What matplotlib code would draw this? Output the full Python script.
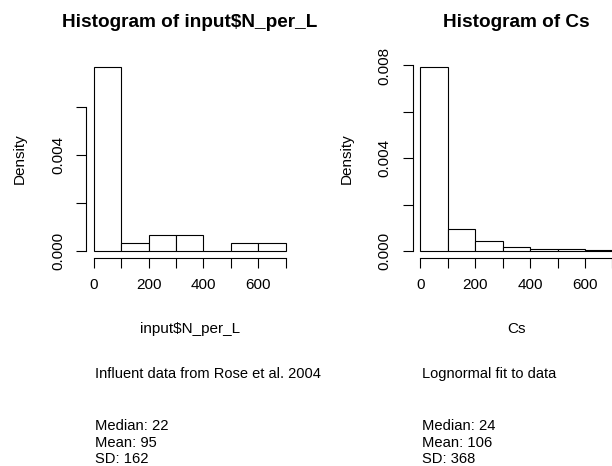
import matplotlib
matplotlib.use("Agg")
import matplotlib.pyplot as plt
import numpy as np

plt.rcParams['font.family'] = ['Liberation Sans', 'DejaVu Sans']

# histogram bins (shared)
breaks = [0, 100, 200, 300, 400, 500, 600, 700]

# left: influent data, counts per bin (n = 30)
n_counts = [23, 1, 2, 2, 0, 1, 1]
# right: lognormal fit, densities
cs_density = [0.00794, 0.00095, 0.00041, 0.00017, 0.00010, 0.00009, 0.00006]

left_title = "Histogram of input$N_per_L"
right_title = "Histogram of Cs"
left_xlab = "input$N_per_L"
right_xlab = "Cs"
left_note = "Influent data from Rose et al. 2004"
right_note = "Lognormal fit to data"
left_stats = ["Median: 22", "Mean: 95", "SD: 162"]
right_stats = ["Median: 24", "Mean: 106", "SD: 368"]

W, H = 612, 466
fig = plt.figure(figsize=(W / 100, H / 100), dpi=100)


def px(x, y):
    return x / W, 1 - y / H


def hist_panel(x0, dens, yticks, ylabels, title, xlab, note, stats):
    x1 = x0 + 207.4
    top, bot = 59.5, 258.3
    ax = fig.add_axes([x0 / W, 1 - bot / H, (x1 - x0) / W, (bot - top) / H])
    widths = np.diff(breaks)
    ax.bar(breaks[:-1], dens, width=widths, align='edge',
           facecolor='white', edgecolor='black', linewidth=0.8)
    span = breaks[-1] - breaks[0]
    ax.set_xlim(breaks[0] - 0.04 * span, breaks[-1] + 0.04 * span)
    ymax = max(dens)
    ax.set_ylim(-0.04 * ymax, 1.04 * ymax)
    ax.spines['top'].set_visible(False)
    ax.spines['right'].set_visible(False)
    ax.spines['left'].set_bounds(yticks[0], yticks[-1])
    ax.spines['bottom'].set_bounds(breaks[0], breaks[-1])
    for s in ('left', 'bottom'):
        ax.spines[s].set_linewidth(0.8)
    ax.set_xticks(breaks)
    ax.set_xticklabels([str(b) if b % 200 == 0 else '' for b in breaks])
    ax.set_yticks(yticks)
    ax.set_yticklabels(ylabels, rotation=90, va='center')
    ax.tick_params(axis='both', length=7, width=0.8, labelsize=11)
    ax.tick_params(axis='x', pad=7)
    ax.tick_params(axis='y', pad=8)

    cx = (x0 + x1) / 2
    fig.text(*px(cx, 26.7), title, ha='center', va='baseline',
             fontsize=13.7, fontweight='bold')
    fig.text(*px(cx, 333), xlab, ha='center', va='baseline', fontsize=11)
    fig.text(*px(x0 - 66, (top + bot) / 2), "Density", rotation=90,
             ha='center', va='center', fontsize=11)
    fig.text(*px(x0 + 9, 378.3), note, ha='left', va='baseline', fontsize=10.5)
    for i, line in enumerate(stats):
        fig.text(*px(x0 + 9, 430 + 16.7 * i), line, ha='left',
                 va='baseline', fontsize=10.6)
    return ax


left_density = np.array(n_counts) / (sum(n_counts) * np.diff(breaks))
hist_panel(86, left_density, [0, 0.002, 0.004, 0.006],
           ["0.000", "", "0.004", ""], left_title, left_xlab, left_note, left_stats)
hist_panel(412.7, cs_density, [0, 0.002, 0.004, 0.006, 0.008],
           ["0.000", "", "0.004", "", "0.008"], right_title, right_xlab,
           right_note, right_stats)

fig.savefig("out.png", dpi=100)
